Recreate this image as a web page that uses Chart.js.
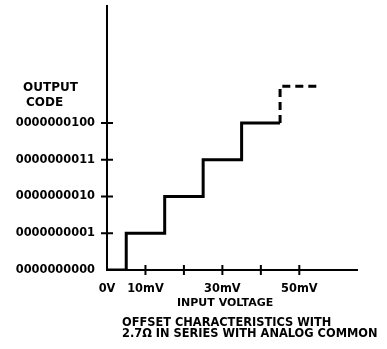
<!DOCTYPE html>
<html lang="en">
  <head>
    <meta charset="UTF-8" />
    <title>Offset characteristics</title>
    <script src="https://cdn.jsdelivr.net/npm/chart.js@4.4.1/dist/chart.umd.min.js"></script>
    <style>
      body { margin: 0; background: #fff; }
      #wrap { position: relative; width: 387px; height: 349px; }
      .lbl {
        position: absolute;
        font-family: "DejaVu Sans", sans-serif;
        font-weight: bold;
        font-size: 11px;
        line-height: 11px;
        color: #000;
        white-space: nowrap;
      }
    </style>
  </head>
  <body>
    <div id="wrap">
      <canvas id="chart" width="387" height="349"></canvas>
      <div class="lbl" style="left: 23px; top: 82px; font-size: 12px">OUTPUT</div>
      <div class="lbl" style="left: 26px; top: 97px; font-size: 12px">CODE</div>
      <div class="lbl" style="left: 177px; top: 297px">INPUT VOLTAGE</div>
      <div class="lbl" style="left: 122px; top: 317px; font-size: 11.4px">
        OFFSET CHARACTERISTICS WITH<br />2.7&Omega; IN SERIES WITH ANALOG COMMON
      </div>
    </div>
    <script>
      // transfer curve: input (mV) where each code starts
      const inputMv = [0, 5, 15, 25, 35, 45];
      const codes = [0, 1, 2, 3, 4, 4];
      const dashedMv = [45, 45, 55];
      const dashedCodes = [4, 5, 5];
      const codeLabels = ["0000000000", "0000000001", "0000000010", "0000000011", "0000000100"];
      const xTickLabels = { 0: "0V", 10: "10mV", 30: "30mV", 50: "50mV" };
      const xTickMarks = [10, 20, 30, 40, 50];

      const solidPts = inputMv.map((x, i) => ({ x: x, y: codes[i] }));
      const dashedPts = dashedMv.map((x, i) => ({ x: x, y: dashedCodes[i] }));

      const font = { family: "DejaVu Sans", weight: "bold", size: 11.4 };

      // small ticks that cross the axis lines
      const crossTicks = {
        id: "crossTicks",
        afterDraw(chart) {
          const ctx = chart.ctx;
          const xs = chart.scales.x;
          const ys = chart.scales.y;
          ctx.save();
          ctx.strokeStyle = "#000";
          ctx.lineWidth = 2;
          ctx.beginPath();
          for (const v of xTickMarks) {
            const px = xs.getPixelForValue(v);
            ctx.moveTo(px, ys.bottom - 5);
            ctx.lineTo(px, ys.bottom + 5);
          }
          for (let i = 1; i < codeLabels.length; i++) {
            const py = ys.getPixelForValue(i);
            ctx.moveTo(xs.left - 6, py);
            ctx.lineTo(xs.left + 6, py);
          }
          ctx.stroke();
          ctx.restore();
        },
      };

      new Chart(document.getElementById("chart"), {
        type: "line",
        data: {
          datasets: [
            {
              data: solidPts,
              stepped: "before",
              borderColor: "#000",
              borderWidth: 3,
              pointRadius: 0,
              fill: false,
            },
            {
              data: dashedPts,
              stepped: false,
              borderColor: "#000",
              borderWidth: 3,
              borderDash: [8, 5],
              pointRadius: 0,
              fill: false,
            },
          ],
        },
        options: {
          responsive: false,
          animation: false,
          layout: { padding: { left: 0, top: 6, right: 30, bottom: 0 } },
          plugins: { legend: { display: false }, tooltip: { enabled: false } },
          scales: {
            x: {
              type: "linear",
              min: 0,
              max: 65,
              afterFit(scale) {
                scale.height = 79;
                scale.paddingLeft = 0;
                scale.paddingRight = 0;
              },
              grid: { display: false, drawTicks: false },
              border: { display: true, color: "#000", width: 2 },
              ticks: {
                stepSize: 10,
                autoSkip: false,
                maxRotation: 0,
                padding: 12,
                color: "#000",
                font: font,
                callback: (v) => xTickLabels[v] || "",
              },
            },
            y: {
              type: "linear",
              min: 0,
              max: 7.18,
              afterFit(scale) {
                scale.width = 107;
                scale.paddingTop = 0;
                scale.paddingBottom = 0;
              },
              grid: { display: false, drawTicks: false },
              border: { display: true, color: "#000", width: 2 },
              ticks: {
                stepSize: 1,
                padding: 12,
                color: "#000",
                font: font,
                callback: (v) => codeLabels[v] || "",
              },
            },
          },
        },
        plugins: [crossTicks],
      });
    </script>
  </body>
</html>
